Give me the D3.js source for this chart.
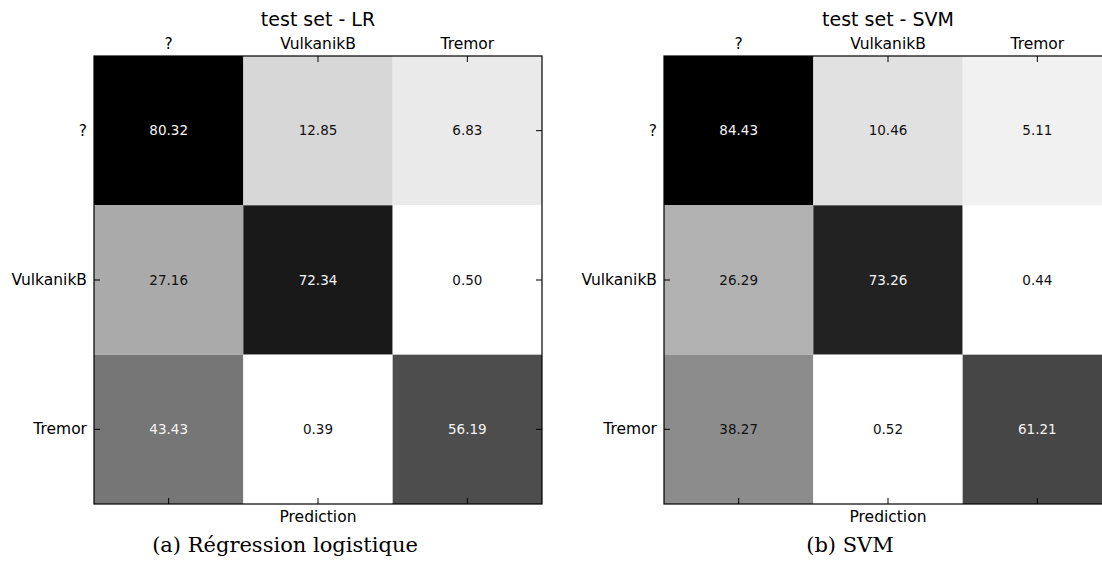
<!DOCTYPE html>
<html>
<head>
<meta charset="utf-8">
<script src="https://cdn.jsdelivr.net/npm/d3@7/dist/d3.min.js"></script>
<style>
  html, body { margin: 0; padding: 0; background: #fff; overflow: hidden; }
  svg { display: block; }
  .axis path.domain { display: none; }
  .axis line { stroke: #000; stroke-width: 1; }
  .axis text { font-family: "DejaVu Sans", sans-serif; font-size: 15.5px; fill: #000; }
</style>
</head>
<body>
<svg id="chart" width="1102" height="566"></svg>
<script>
// Class labels shared by both confusion matrices (rows = truth, columns = prediction)
const classes = ["?", "VulkanikB", "Tremor"];

// Row-normalised percentages, logistic regression
const lrValues = [
  [80.32, 12.85, 6.83],
  [27.16, 72.34, 0.50],
  [43.43, 0.39, 56.19]
];

// Row-normalised percentages, SVM
const svmValues = [
  [84.43, 10.46, 5.11],
  [26.29, 73.26, 0.44],
  [38.27, 0.52, 61.21]
];

const panelTitles = ["test set - LR", "test set - SVM"];
const panelCaptions = ["(a) Régression logistique", "(b) SVM"];
const xAxisLabel = "Prediction";

const svg = d3.select("#chart");
const size = 448;
const panelTop = 56;
// captionX: centre of each sub-figure caption, in page coordinates
const panels = [
  { left: 94, captionX: 285, values: lrValues, title: panelTitles[0], caption: panelCaptions[0] },
  { left: 664, captionX: 850, values: svmValues, title: panelTitles[1], caption: panelCaptions[1] }
];

panels.forEach(p => {
  const g = svg.append("g").attr("transform", `translate(${p.left},${panelTop})`);

  const x = d3.scaleBand().domain(classes).range([0, size]);
  const y = d3.scaleBand().domain(classes).range([0, size]);

  const flat = p.values.flat();
  const vmin = d3.min(flat), vmax = d3.max(flat);
  const color = d3.scaleLinear().domain([vmin, vmax]).range(["#ffffff", "#000000"]);

  const cells = [];
  p.values.forEach((row, i) => row.forEach((v, j) => cells.push({ r: classes[i], c: classes[j], v })));

  g.selectAll("rect.cell")
    .data(cells)
    .join("rect")
    .attr("class", "cell")
    .attr("x", d => x(d.c))
    .attr("y", d => y(d.r))
    .attr("width", x.bandwidth())
    .attr("height", y.bandwidth())
    .attr("fill", d => color(d.v));

  g.selectAll("text.val")
    .data(cells)
    .join("text")
    .attr("class", "val")
    .attr("x", d => x(d.c) + x.bandwidth() / 2)
    .attr("y", d => y(d.r) + y.bandwidth() / 2)
    .attr("text-anchor", "middle")
    .attr("dy", "0.35em")
    .style("font-family", "DejaVu Sans, sans-serif")
    .style("font-size", "13.5px")
    .attr("fill", d => d.v > vmax / 2 ? "#f4f4f4" : "#111111")
    .text(d => d.v.toFixed(2));

  // Axes with inward ticks on all four sides
  g.append("g").attr("class", "axis")
    .call(d3.axisTop(x).tickSize(-6).tickPadding(7));
  g.append("g").attr("class", "axis").attr("transform", `translate(0,${size})`)
    .call(d3.axisBottom(x).tickSize(-6).tickFormat(""));
  g.append("g").attr("class", "axis")
    .call(d3.axisLeft(y).tickSize(-6).tickPadding(7));
  g.append("g").attr("class", "axis").attr("transform", `translate(${size},0)`)
    .call(d3.axisRight(y).tickSize(-6).tickFormat(""));

  // Frame
  g.append("rect")
    .attr("x", 0).attr("y", 0)
    .attr("width", size).attr("height", size)
    .attr("fill", "none")
    .attr("stroke", "#000")
    .attr("stroke-width", 1.2);

  g.append("text")
    .attr("x", size / 2).attr("y", -30.5)
    .attr("text-anchor", "middle")
    .style("font-family", "DejaVu Sans, sans-serif")
    .style("font-size", "19px")
    .text(p.title);

  g.append("text")
    .attr("x", size / 2).attr("y", size + 18)
    .attr("text-anchor", "middle")
    .style("font-family", "DejaVu Sans, sans-serif")
    .style("font-size", "15.5px")
    .text(xAxisLabel);

  svg.append("text")
    .attr("x", p.captionX).attr("y", panelTop + size + 48)
    .attr("text-anchor", "middle")
    .style("font-family", "DejaVu Serif, serif")
    .style("font-size", "21px")
    .text(p.caption);
});
</script>
</body>
</html>
